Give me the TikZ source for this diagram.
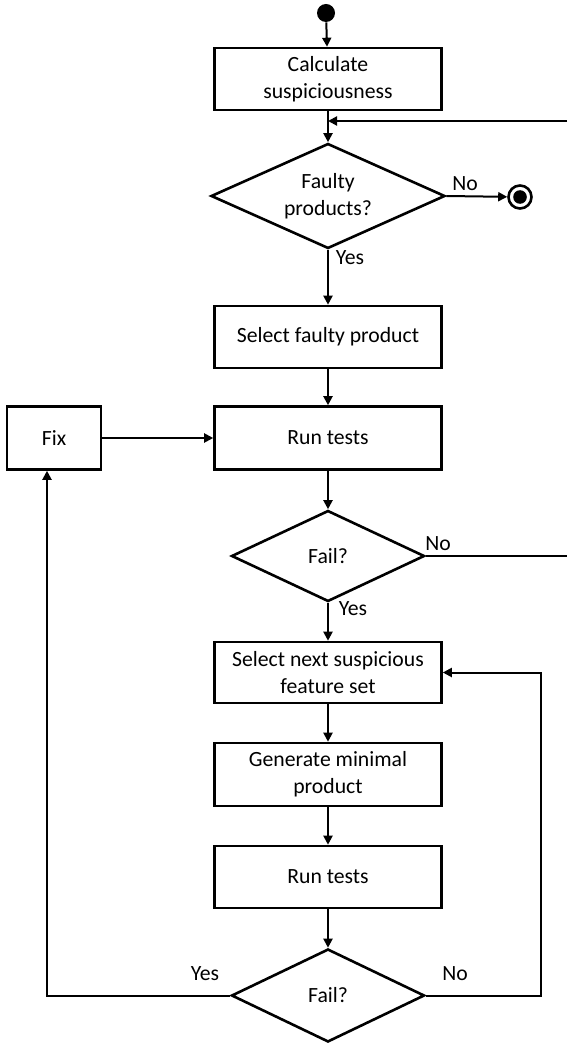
\documentclass[tikz,border=0pt]{standalone}
\usepackage{fontspec}
\setmainfont{Carlito}
\usetikzlibrary{shapes.geometric,arrows.meta}

\tikzset{
  every node/.style={font=\fontsize{10.85pt}{13.3pt}\selectfont},
  stepbox/.style={draw, line width=1.3pt, minimum width=113.5pt, minimum height=31pt,
                  inner sep=0pt, align=center},
  decision/.style={draw, diamond, line width=1.3pt, inner sep=0pt, align=center},
  flow/.style={line width=1pt, -{Triangle[length=4.5pt,width=4.5pt]}},
  plain/.style={line width=1pt},
  lbl/.style={inner sep=0pt}
}

\begin{document}
\begin{tikzpicture}[x=0.5pt, y=-0.5pt]
  \useasboundingbox (0,0) rectangle (567,1043);

  % Initial and final states
  \node[circle, fill=black, minimum size=9pt, inner sep=0pt] (start) at (326,13) {};
  \node[circle, draw, line width=1.3pt, minimum size=11.5pt, inner sep=0pt,
        path picture={\fill (path picture bounding box.center) circle (3.4pt);}] (stop) at (520,197) {};

  % Main column
  \node[stepbox] (calc) at (328,79) {Calculate\\suspiciousness};
  \node[decision, aspect=2.23, minimum width=117pt, minimum height=52.5pt] (faulty) at (328,196) {Faulty\\products?};
  \node[stepbox] (selfaulty) at (328,337) {Select faulty product};
  \node[stepbox, minimum height=31.5pt] (runA) at (328,438) {Run tests};
  \node[stepbox, minimum width=47pt, minimum height=31.5pt] (fix) at (54,438) {Fix};
  \node[decision, aspect=2.12, minimum width=96.5pt, minimum height=45.5pt] (failA) at (328,556) {Fail?};
  \node[stepbox, minimum height=30.5pt] (selnext) at (328,672.5) {Select next suspicious\\feature set};
  \node[stepbox, minimum height=31.5pt] (genmin) at (328,774.5) {Generate minimal\\product};
  \node[stepbox] (runB) at (328,877) {Run tests};
  \node[decision, aspect=2.08, minimum width=96.5pt, minimum height=46.5pt] (failB) at (328,995.5) {Fail?};

  % Free ends and corners
  \coordinate (back) at (567,121);
  \coordinate (noout) at (567,556);
  \coordinate (lcorner) at (47,995.5);
  \coordinate (rcorner) at (541,995.5);

  % Straight-down arrows
  \foreach \a/\b in {start/calc, calc/faulty, faulty/selfaulty, selfaulty/runA,
                     runA/failA, failA/selnext, selnext/genmin, genmin/runB, runB/failB}
    \draw[flow] (\a) -- (\b);

  % Branches
  \draw[flow] (faulty.east) -- (stop);
  \draw[flow] (back) -- (back -| calc.south);
  \draw[plain] (failA.east) -- (noout);
  \draw[flow] (fix.east) -- (runA.west);
  \draw[flow] (failB.west) -- (lcorner) -- (lcorner |- fix.south);
  \draw[flow] (failB.east) -- (rcorner) |- (selnext.east);

  % Branch labels
  \node[lbl] (noA) at (465,184) {No};
  \node[lbl] (yesA) at (350,258) {Yes};
  \node[lbl] (noB) at (438,544) {No};
  \node[lbl] (yesB) at (353,609) {Yes};
  \node[lbl] (yesC) at (205,974) {Yes};
  \node[lbl] (noC) at (455,974) {No};
\end{tikzpicture}
\end{document}
